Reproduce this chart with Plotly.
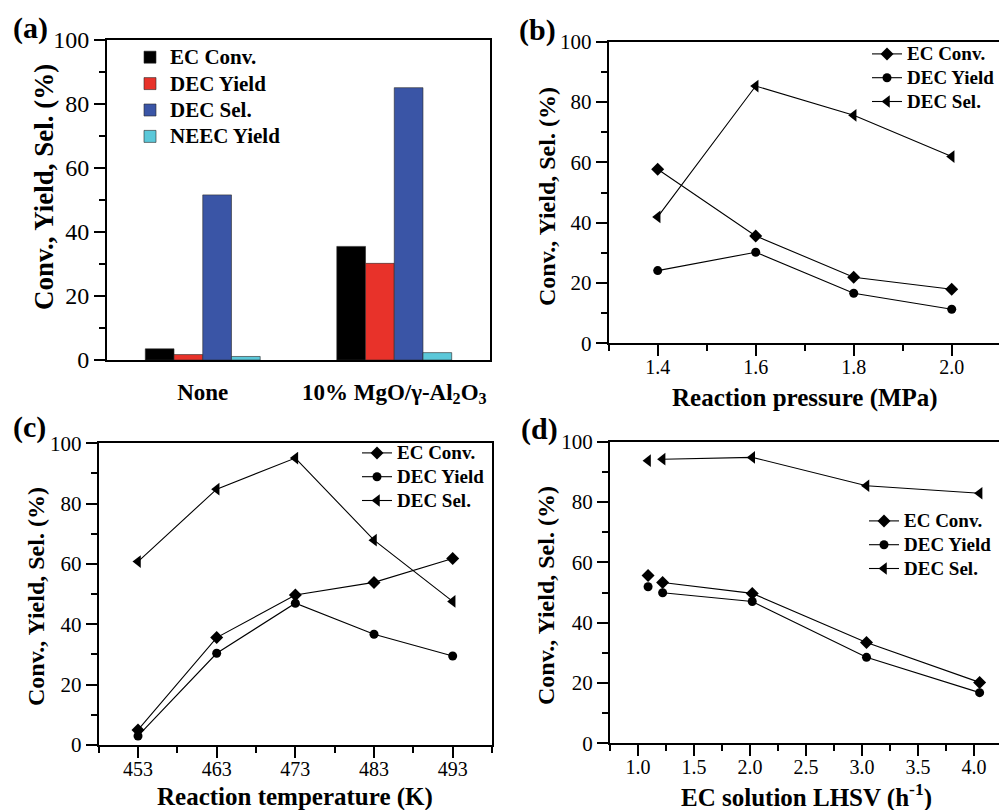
import plotly.graph_objects as go

W, H = 999, 810
SERIF = "Liberation Serif, Times New Roman, serif"

# ---------------- data ----------------
# (a) bar chart
catalysts = ["None", "10% MgO/γ-Al<sub>2</sub>O<sub>3</sub>"]
ec_conv_a = [3.5, 35.5]
dec_yield_a = [1.7, 30.2]
dec_sel_a = [51.6, 85.1]
neec_yield_a = [1.1, 2.3]

# (b) reaction pressure (MPa)
pressure = [1.4, 1.6, 1.8, 2.0]
ec_conv_b = [57.7, 35.6, 21.9, 17.9]
dec_yield_b = [24.1, 30.2, 16.6, 11.3]
dec_sel_b = [41.9, 85.3, 75.6, 61.9]

# (c) reaction temperature (K)
temperature = [453, 463, 473, 483, 493]
ec_conv_c = [5.0, 35.6, 49.7, 53.9, 61.8]
dec_yield_c = [3.0, 30.4, 47.0, 36.7, 29.5]
dec_sel_c = [60.8, 84.8, 95.1, 67.9, 47.6]

# (d) EC solution LHSV (h-1)
lhsv = [1.09, 1.22, 2.02, 3.04, 4.05]
ec_conv_d = [55.6, 53.3, 49.7, 33.4, 20.2]
dec_yield_d = [51.9, 49.9, 47.0, 28.5, 16.8]
dec_sel_d = [93.7, 94.2, 94.8, 85.4, 82.9]

series_names = ["EC Conv.", "DEC Yield", "DEC Sel.", "NEEC Yield"]
bar_colors = ["#000000", "#E8322A", "#3A55A6", "#5BC8D9"]
symbols = ["diamond", "circle", "triangle-left"]
sizes = [10, 9, 11]


def px(x):
    return x / W


def py(y):
    return 1 - y / H


def big(name, fs):
    return f'<span style="font-size:{fs}px">{name}</span>'


fig = go.Figure()

# ---------------- (a) ----------------
for name, vals, col in zip(series_names, [ec_conv_a, dec_yield_a, dec_sel_a, neec_yield_a], bar_colors):
    fig.add_trace(go.Bar(x=catalysts, y=vals, name=big(name, 21),
                         marker=dict(color=col, line=dict(color="rgba(40,40,40,0.6)", width=1)),
                         xaxis="x", yaxis="y", legend="legend"))


def line_traces(xs, ys_list, xa, ya, leg, split_first=False):
    for name, ys, sym, sz in zip(series_names[:3], ys_list, symbols, sizes):
        start = 1 if split_first else 0
        fig.add_trace(go.Scatter(x=xs[start:], y=ys[start:], mode="lines+markers", name=big(name, 19),
                                 line=dict(color="black", width=1.1),
                                 marker=dict(symbol=sym, size=sz, color="black"),
                                 xaxis=xa, yaxis=ya, legend=leg))
        if split_first:
            fig.add_trace(go.Scatter(x=xs[:1], y=ys[:1], mode="markers", name=name, showlegend=False,
                                     marker=dict(symbol=sym, size=sz, color="black"),
                                     xaxis=xa, yaxis=ya, legend=leg))


line_traces(pressure, [ec_conv_b, dec_yield_b, dec_sel_b], "x2", "y2", "legend2")
line_traces(temperature, [ec_conv_c, dec_yield_c, dec_sel_c], "x3", "y3", "legend3")
line_traces(lhsv, [ec_conv_d, dec_yield_d, dec_sel_d], "x4", "y4", "legend4", split_first=True)


def yaxis(domain, anchor, fs, mirror):
    return dict(domain=domain, anchor=anchor, range=[0, 100], tickmode="linear", tick0=0, dtick=20,
                ticks="outside", ticklen=11, tickwidth=2, tickcolor="black",
                showline=True, linewidth=2, linecolor="black", mirror=mirror,
                showgrid=False, zeroline=False, automargin=False,
                tickfont=dict(family=SERIF, size=fs, color="black"),
                minor=dict(dtick=10, tick0=0, ticks="outside", ticklen=6, tickwidth=2, tickcolor="black"))


def xaxis(domain, anchor, rng, dtick, tick0, mdtick, mtick0, fs, fmt):
    return dict(domain=domain, anchor=anchor, range=rng, tickmode="linear", tick0=tick0, dtick=dtick,
                tickformat=fmt, ticklabelstandoff=-6,
                ticks="outside", ticklen=11, tickwidth=2, tickcolor="black",
                showline=True, linewidth=2, linecolor="black", mirror=True,
                showgrid=False, zeroline=False, automargin=False,
                tickfont=dict(family=SERIF, size=fs, color="black"),
                minor=dict(dtick=mdtick, tick0=mtick0, ticks="outside", ticklen=6, tickwidth=2, tickcolor="black"))


def legend(x, y, fs):
    return dict(x=px(x), y=py(y), xanchor="left", yanchor="top", bgcolor="rgba(0,0,0,0)",
                font=dict(family=SERIF, size=fs, color="black", weight="bold"))


fig.update_layout(
    width=W, height=H, margin=dict(l=0, r=0, t=0, b=0, autoexpand=False),
    paper_bgcolor="white", plot_bgcolor="white",
    barmode="group", bargap=0.4, bargroupgap=0,
    font=dict(family=SERIF, color="black"),
    xaxis=dict(domain=[px(107), px(490)], anchor="y", type="category", range=[-0.5, 1.5],
               showline=True, linewidth=2, linecolor="black", mirror=True, ticks="",
               ticklabelstandoff=10, showgrid=False, automargin=False,
               tickfont=dict(family=SERIF, size=23, color="black", weight="bold")),
    yaxis=yaxis([py(360), py(40)], "x", 24, True),
    xaxis2=xaxis([px(608.7), 1.0], "y2", [1.3, 2.0965], 0.2, 0, 0.1, 0, 20, ".1f"),
    yaxis2=yaxis([py(343.3), py(41.7)], "x2", 21, False),
    xaxis3=xaxis([px(98.7), px(492)], "y3", [448, 498], 10, 453, 5, 448, 20, "d"),
    yaxis3=yaxis([py(745), py(443.3)], "x3", 21, True),
    xaxis4=xaxis([px(610), 1.0], "y4", [0.75, 4.223], 0.5, 0, 0.25, 0, 20, ".1f"),
    yaxis4=yaxis([py(743.3), py(441.7)], "x4", 21, False),
    legend=legend(130, 39, 18),
    legend2=legend(867, 37, 16),
    legend3=legend(357, 436, 16),
    legend4=legend(864, 504, 16),
)

ann = []
# panel labels
for lab, x, y in [("(a)", 30, 28), ("(b)", 537, 30), ("(c)", 29, 427), ("(d)", 539, 429)]:
    ann.append(dict(text=f"<b>{lab}</b>", x=px(x), y=py(y), xref="paper", yref="paper", showarrow=False,
                    xanchor="center", yanchor="middle", font=dict(family=SERIF, size=30, color="black")))
# y titles
for x, y, fs in [(44, 187, 27), (547, 197, 24), (36, 597, 24), (546, 596, 24)]:
    ann.append(dict(text="<b>Conv., Yield, Sel. (%)</b>", x=px(x), y=py(y), xref="paper", yref="paper",
                    showarrow=False, textangle=-90, xanchor="center", yanchor="middle",
                    font=dict(family=SERIF, size=fs, color="black")))
# x titles
for txt, x, y in [("Reaction pressure (MPa)", 805, 398), ("Reaction temperature (K)", 295, 797),
                  ("EC solution LHSV (h<sup>-1</sup>)", 806, 795)]:
    ann.append(dict(text=f"<b>{txt}</b>", x=px(x), y=py(y), xref="paper", yref="paper", showarrow=False,
                    xanchor="center", yanchor="middle", font=dict(family=SERIF, size=25, color="black")))
fig.update_layout(annotations=ann)

fig.write_html("out.html")
